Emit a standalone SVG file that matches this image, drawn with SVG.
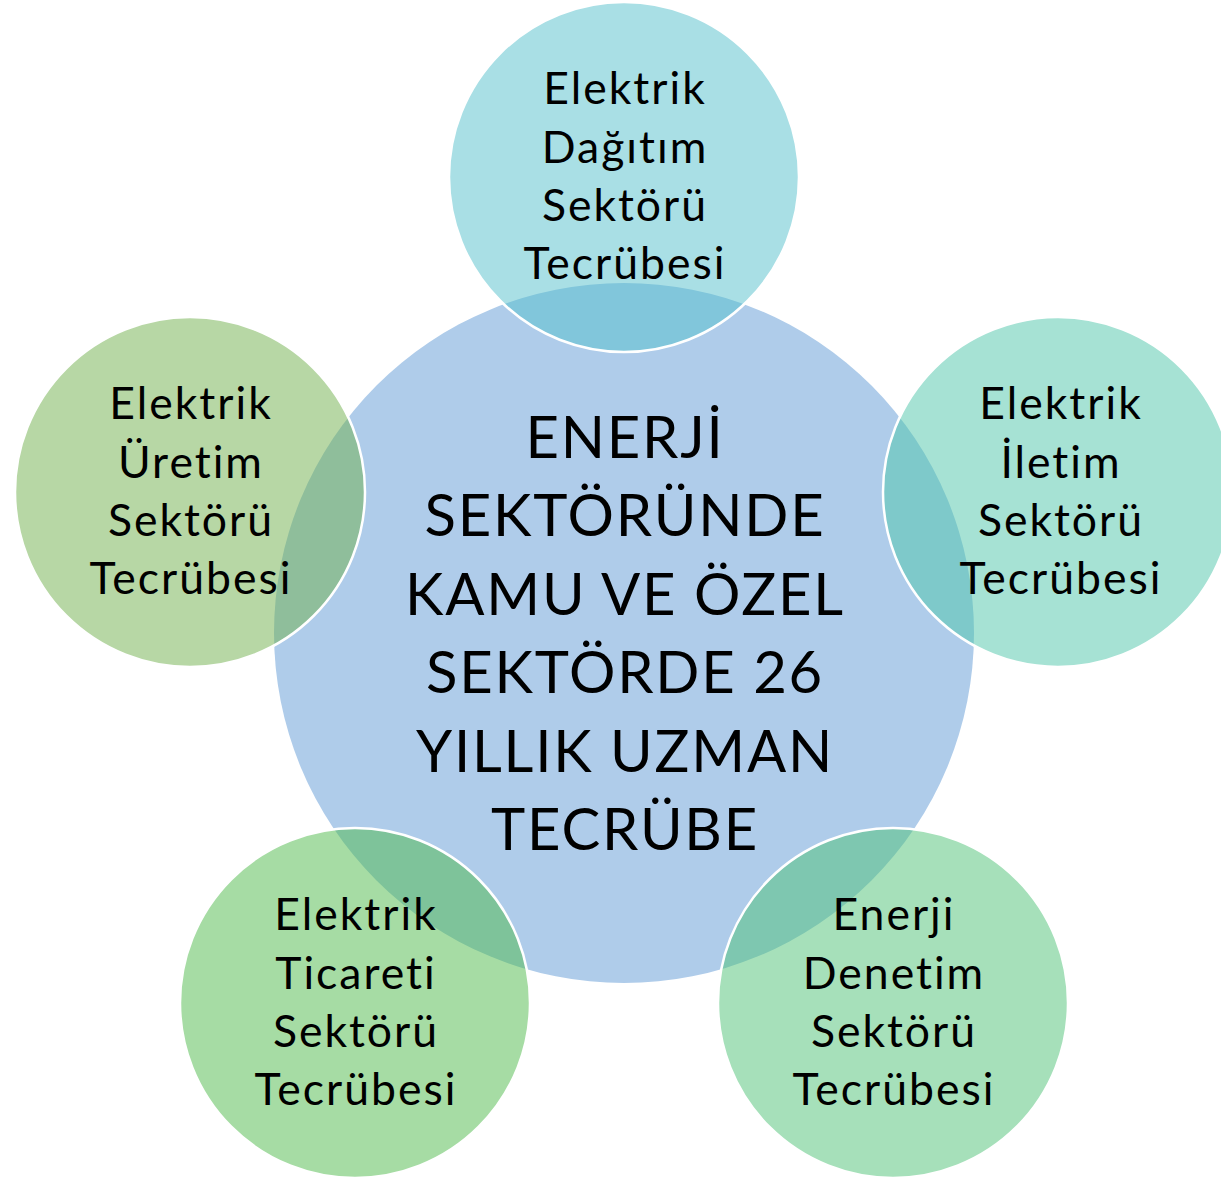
<svg xmlns="http://www.w3.org/2000/svg" width="1221" height="1177" viewBox="0 0 1221 1177">
<style>
.sat{stroke:#ffffff;stroke-width:2.5;fill-opacity:0.5}
.t{font-family:Lato,"Liberation Sans",sans-serif;fill:#000000;text-anchor:middle;font-variant-ligatures:none}
.ts{font-size:44.5px;letter-spacing:2px}
.tc{font-size:58px;letter-spacing:1.8px}
</style>
<rect width="1221" height="1177" fill="#ffffff"/>
<g id="center">
<circle cx="624" cy="633" r="350" fill="#AFCCEA"/>
</g>
<g id="connectors"></g>
<g id="top">
<circle class="sat" cx="624" cy="177" r="175" fill="#53BFCB"/>
<text class="t ts"><tspan x="625" y="104">Elektrik</tspan><tspan x="625" y="163">Dağıtım</tspan><tspan x="625" y="221">Sektörü</tspan><tspan x="625" y="279">Tecrübesi</tspan></text>
</g>
<g id="right">
<circle class="sat" cx="1058" cy="492" r="175" fill="#4DC5A9"/>
<text class="t ts"><tspan x="1061" y="419">Elektrik</tspan><tspan x="1061" y="478">İletim</tspan><tspan x="1061" y="536">Sektörü</tspan><tspan x="1061" y="594">Tecrübesi</tspan></text>
</g>
<g id="left">
<circle class="sat" cx="190" cy="492" r="175" fill="#6FAF4B"/>
<text class="t ts"><tspan x="191" y="419">Elektrik</tspan><tspan x="191" y="478">Üretim</tspan><tspan x="191" y="536">Sektörü</tspan><tspan x="191" y="594">Tecrübesi</tspan></text>
</g>
<g id="bottom-left">
<circle class="sat" cx="355" cy="1003" r="175" fill="#4DB949"/>
<text class="t ts"><tspan x="356" y="930">Elektrik</tspan><tspan x="356" y="989">Ticareti</tspan><tspan x="356" y="1047">Sektörü</tspan><tspan x="356" y="1105">Tecrübesi</tspan></text>
</g>
<g id="bottom-right">
<circle class="sat" cx="893" cy="1003" r="175" fill="#4DC175"/>
<text class="t ts"><tspan x="894" y="930">Enerji</tspan><tspan x="894" y="989">Denetim</tspan><tspan x="894" y="1047">Sektörü</tspan><tspan x="894" y="1105">Tecrübesi</tspan></text>
</g>
<g id="center-label">
<text class="t tc"><tspan x="625" y="458">ENERJİ</tspan><tspan x="625" y="536">SEKTÖRÜNDE</tspan><tspan x="625" y="615">KAMU VE ÖZEL</tspan><tspan x="625" y="693">SEKTÖRDE 26</tspan><tspan x="625" y="772">YILLIK UZMAN</tspan><tspan x="625" y="850">TECRÜBE</tspan></text>
</g>
</svg>
